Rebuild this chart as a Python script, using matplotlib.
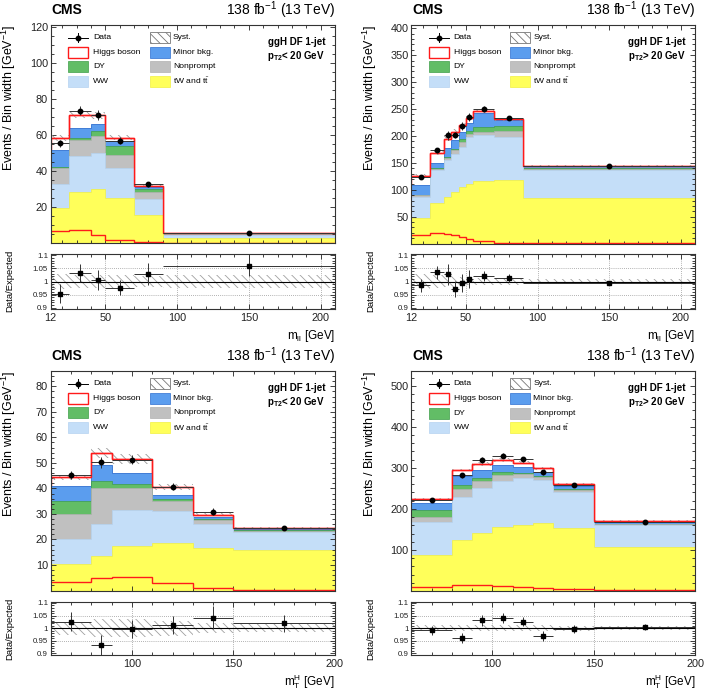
import numpy as np
import matplotlib
matplotlib.use("Agg")
import matplotlib.pyplot as plt
from matplotlib.patches import Rectangle
from matplotlib.lines import Line2D
from matplotlib.ticker import MultipleLocator, FixedLocator

plt.rcParams["font.family"] = ["Liberation Sans", "DejaVu Sans"]
plt.rcParams["mathtext.fontset"] = "custom"
plt.rcParams["mathtext.rm"] = "Liberation Sans"
plt.rcParams["mathtext.it"] = "Liberation Sans:italic"
plt.rcParams["mathtext.bf"] = "Liberation Sans:bold"
plt.rcParams["hatch.linewidth"] = 0.6

W, H = 706, 694

# ---- top-left: m_ll, pT2 < 20 GeV ----
mll_lo_edges = [12, 25, 40, 50, 70, 90, 210]
mll_lo_top   = [19.4, 28.6, 29.9, 25.3, 15.7, 3.1]
mll_lo_ww    = [13.3, 19.8, 20.0, 16.6, 8.9, 1.6]
mll_lo_np    = [9.2, 8.8, 9.5, 7.0, 4.0, 0.3]
mll_lo_dy    = [0.6, 1.0, 2.8, 5.2, 1.3, 0.2]
mll_lo_minor = [9.2, 5.5, 3.9, 2.5, 1.4, 0.2]
mll_lo_higgs = [6.6, 7.4, 4.8, 1.9, 0.5, 0.25]
mll_lo_data  = [55.4, 73.4, 71.2, 57.0, 32.7, 5.9]
mll_lo_derr  = [2.0, 2.5, 2.8, 1.7, 1.4, 0.3]
mll_lo_ratio = [0.953, 1.033, 1.005, 0.977, 1.030, 1.060]
mll_lo_rerr  = [0.036, 0.034, 0.038, 0.030, 0.042, 0.040]
mll_lo_syst  = [0.030, 0.025, 0.025, 0.025, 0.020, 0.025]

# ---- top-right: m_ll, pT2 > 20 GeV ----
mll_hi_edges = [12, 25, 35, 40, 45, 50, 55, 70, 90, 210]
mll_hi_top   = [47, 74.9, 87, 96.5, 104.6, 110.8, 116.4, 118, 85]
mll_hi_ww    = [40.2, 61.9, 68.4, 69.5, 75.4, 86.8, 85.5, 80.7, 51]
mll_hi_np    = [3.1, 1.2, 3.3, 8.0, 9.4, 5.4, 6.1, 10.6, 2.5]
mll_hi_dy    = [0.7, 2.0, 1.7, 2.5, 4.4, 6.9, 9.3, 9.3, 1.0]
mll_hi_minor = [18.6, 10.0, 16.6, 16.1, 13.3, 14.5, 24.4, 10.7, 5.0]
mll_hi_higgs = [16, 19, 18, 15.4, 12.9, 8.6, 4.8, 1.7, 0.5]
mll_hi_data  = [123, 173, 201, 202, 218, 235, 250, 234, 144]
mll_hi_derr  = [3.0, 4.3, 8.0, 6.0, 7.6, 8.2, 5.0, 3.5, 1.2]
mll_hi_ratio = [0.985, 1.035, 1.0275, 0.971, 0.994, 1.009, 1.021, 1.015, 0.994]
mll_hi_rerr  = [0.024, 0.025, 0.040, 0.030, 0.035, 0.035, 0.020, 0.015, 0.008]
mll_hi_syst  = [0.030, 0.025, 0.022, 0.020, 0.018, 0.015, 0.012, 0.012, 0.008]

# ---- bottom-left: mTH, pT2 < 20 GeV ----
mth_lo_edges = [60, 80, 90, 110, 130, 150, 200]
mth_lo_top   = [10.4, 13.5, 17.5, 18.5, 16.5, 15.9]
mth_lo_ww    = [9.8, 12.5, 14.1, 12.7, 9.5, 6.9]
mth_lo_np    = [9.8, 14.1, 8.5, 3.7, 1.7, 0.6]
mth_lo_dy    = [4.9, 2.7, 1.6, 0.9, 0.3, 0.2]
mth_lo_minor = [6.2, 6.2, 4.4, 1.7, 0.8, 0.45]
mth_lo_higgs = [3.2, 4.8, 5.4, 2.9, 0.8, 0.35]
mth_lo_data  = [45.2, 50.2, 51.2, 40.7, 30.9, 24.6]
mth_lo_derr  = [1.7, 2.1, 1.8, 1.5, 1.4, 0.8]
mth_lo_ratio = [1.026, 0.932, 0.997, 1.013, 1.041, 1.019]
mth_lo_rerr  = [0.037, 0.042, 0.035, 0.037, 0.045, 0.034]
mth_lo_syst  = [0.025, 0.035, 0.035, 0.030, 0.020, 0.015]

# ---- bottom-right: mTH, pT2 > 20 GeV ----
mth_hi_edges = [60, 80, 90, 100, 110, 120, 130, 150, 200]
mth_hi_top   = [87.9, 124.4, 142.2, 155.3, 160.9, 166.5, 154.3, 108]
mth_hi_ww    = [79.5, 103.9, 109.5, 112.7, 115.1, 103.9, 87.7, 53]
mth_hi_np    = [13.6, 19.5, 17.1, 14.6, 9.8, 8.1, 4.0, 1.5]
mth_hi_dy    = [16.4, 10.5, 7.2, 6.6, 1.7, 2.5, 2.5, 1.0]
mth_hi_minor = [17.6, 23.0, 19.4, 17.0, 15.1, 9.9, 7.2, 5.3]
mth_hi_higgs = [10, 13.5, 14, 12.8, 10, 8, 5, 1.8]
mth_hi_data  = [221.8, 282, 319, 329.6, 320.8, 289.2, 258.3, 169]
mth_hi_derr  = [4.0, 5.6, 7.0, 6.6, 5.8, 5.8, 3.9, 2.0]
mth_hi_ratio = [0.991, 0.961, 1.032, 1.039, 1.026, 0.970, 0.996, 1.006]
mth_hi_rerr  = [0.018, 0.020, 0.022, 0.020, 0.018, 0.020, 0.015, 0.012]
mth_hi_syst  = [0.012, 0.012, 0.012, 0.012, 0.012, 0.012, 0.010, 0.008]

C_TOP, C_WW, C_NP, C_DY, C_MIN, C_H = "#FFFF5A", "#C4DEF8", "#C0C0C0", "#62BD66", "#5B9DEE", "#FF1A1A"
E_TOP, E_WW, E_NP, E_DY, E_MIN = "#F2F040", "#B5D2F0", "#B0B0B0", "#3E9E48", "#2F6FD0"
HATCH = "\\\\\\\\"


def px_axes(fig, l, t, r, b):
    return fig.add_axes([l / W, 1 - b / H, (r - l) / W, (b - t) / H])


def style(ax, ysize):
    ax.tick_params(which="both", direction="in", top=True, right=True, labelsize=ysize, pad=2,
                   width=0.6, colors="#222")
    ax.tick_params(which="major", length=3.6)
    ax.tick_params(which="minor", length=1.9)
    for sp in ax.spines.values():
        sp.set_linewidth(0.8); sp.set_color("#333"); sp.set_zorder(6)


def legend(ax):
    bw, bh = 0.070, 0.050
    rows = [0.942, 0.875, 0.809, 0.743]
    kw = dict(transform=ax.transAxes, clip_on=False, zorder=7)
    tk = dict(transform=ax.transAxes, fontsize=6.1, va="center", ha="left", zorder=7)
    # column 1
    x0 = 0.061
    ax.add_line(Line2D([x0, x0 + bw], [rows[0]] * 2, color="k", lw=0.7, **kw))
    ax.add_line(Line2D([x0 + bw / 2] * 2, [rows[0] - 0.02, rows[0] + 0.02], color="k", lw=0.7, **kw))
    ax.add_line(Line2D([x0 + bw / 2], [rows[0]], marker="o", ms=3.2, color="k", **kw))
    ax.add_patch(Rectangle((x0, rows[1] - bh / 2), bw, bh, facecolor="white", edgecolor=C_H, lw=1.0, **kw))
    ax.add_patch(Rectangle((x0, rows[2] - bh / 2), bw, bh, facecolor=C_DY, edgecolor=E_DY, lw=0.5, **kw))
    ax.add_patch(Rectangle((x0, rows[3] - bh / 2), bw, bh, facecolor=C_WW, edgecolor=E_WW, lw=0.5, **kw))
    for y, s in zip(rows, ["Data", "Higgs boson", "DY", "WW"]):
        ax.text(0.149, y, s, **tk)
    # column 2
    x1 = 0.349
    ax.add_patch(Rectangle((x1, rows[0] - bh / 2), bw, bh, facecolor="white", edgecolor="#777",
                           hatch=HATCH, lw=0.6, **kw))
    ax.add_patch(Rectangle((x1, rows[1] - bh / 2), bw, bh, facecolor=C_MIN, edgecolor=E_MIN, lw=0.5, **kw))
    ax.add_patch(Rectangle((x1, rows[2] - bh / 2), bw, bh, facecolor=C_NP, edgecolor=E_NP, lw=0.5, **kw))
    ax.add_patch(Rectangle((x1, rows[3] - bh / 2), bw, bh, facecolor=C_TOP, edgecolor=E_TOP, lw=0.5, **kw))
    for y, s in zip(rows, ["Syst.", "Minor bkg.", "Nonprompt", r"tW and $\mathrm{t\bar{t}}$"]):
        ax.text(0.430, y, s, **tk)


def panel(ax, rax, edges, comps, higgs, data, derr, ratio, rerr, syst,
          ylim, ymajor, yminor, xlim, xticks, xlabels, cut):
    edges = np.asarray(edges, float)
    centers = 0.5 * (edges[1:] + edges[:-1])
    half = 0.5 * np.diff(edges)
    cum = np.cumsum([np.asarray(c, float) for c in comps + [higgs]], axis=0)
    fcs = [C_TOP, C_WW, C_NP, C_DY, C_MIN, "white"]
    ecs = [E_TOP, E_WW, E_NP, E_DY, E_MIN, C_H]
    lws = [0.5, 0.5, 0.5, 0.5, 0.6, 1.0]
    for i in reversed(range(len(cum))):
        ax.stairs(cum[i], edges, baseline=0, fill=True, facecolor=fcs[i], edgecolor=ecs[i],
                  lw=lws[i], zorder=1)
    total = cum[-1]
    s = np.asarray(syst, float)
    ax.stairs(total * (1 + s), edges, baseline=total * (1 - s), fill=True, facecolor="none",
              edgecolor="#9a9a9a", hatch=HATCH, lw=0, zorder=2)
    ax.stairs(total, edges, baseline=None, color=C_H, lw=1.0, zorder=3)
    ax.stairs(np.asarray(higgs, float), edges, baseline=None, color=C_H, lw=1.0, zorder=3)
    ax.errorbar(centers, data, xerr=half, yerr=derr, fmt="o", ms=3.2, color="k", ecolor="#333",
                elinewidth=0.7, capsize=0, zorder=4)
    ax.set_xlim(*xlim); ax.set_ylim(*ylim)
    ax.yaxis.set_major_locator(FixedLocator(ymajor))
    ax.yaxis.set_minor_locator(MultipleLocator(yminor))
    ax.xaxis.set_major_locator(FixedLocator(xticks))
    ax.xaxis.set_minor_locator(MultipleLocator(10))
    style(ax, 7.8)
    ax.tick_params(labelbottom=False)
    legend(ax)
    ax.text(0.965, 0.9235, "ggH DF 1-jet", transform=ax.transAxes, ha="right", va="center",
            fontsize=7, fontweight="bold", zorder=7)
    ax.text(0.965, 0.86, r"$\mathbf{p}_{\mathbf{T2}}$" + cut, transform=ax.transAxes, ha="right",
            va="center", fontsize=7, fontweight="bold", zorder=7)

    # ratio panel
    rax.stairs(1 + s, edges, baseline=1 - s, fill=True, facecolor="none", edgecolor="#a0a0a0",
               hatch=HATCH, lw=0, zorder=1)
    for y in (0.95, 1.05):
        rax.axhline(y, color="#999", lw=0.6, ls=(0, (1, 1.5)), zorder=0)
    for x in xticks:
        if xlim[0] < x < xlim[1]:
            rax.axvline(x, color="#999", lw=0.6, ls=(0, (1, 1.5)), zorder=0)
    rax.axhline(1.0, color="k", lw=0.8, zorder=2)
    rax.errorbar(centers, ratio, xerr=half, yerr=rerr, fmt="s", ms=2.6, color="k", ecolor="#333",
                 elinewidth=0.7, capsize=0, zorder=4)
    rax.set_xlim(*xlim); rax.set_ylim(0.895, 1.105)
    rax.set_yticks([0.9, 0.95, 1.0, 1.05, 1.1], ["0.9", "0.95", "1", "1.05", "1.1"])
    rax.yaxis.set_minor_locator(MultipleLocator(0.01))
    rax.set_xticks(xticks, xlabels)
    rax.xaxis.set_minor_locator(MultipleLocator(10))
    style(rax, 5.7)
    rax.tick_params(axis="x", labelsize=7.8, pad=3)


fig = plt.figure(figsize=(W / 100, H / 100), dpi=100)

comps = lambda *a: list(a)
specs = [
    # main box, ratio box, data, y axis, x axis, xlabel, cut
    ((50.7, 25, 335, 243.4), (50.7, 254, 335, 309),
     (mll_lo_edges, comps(mll_lo_top, mll_lo_ww, mll_lo_np, mll_lo_dy, mll_lo_minor), mll_lo_higgs,
      mll_lo_data, mll_lo_derr, mll_lo_ratio, mll_lo_rerr, mll_lo_syst),
     ((0, 121), [20, 40, 60, 80, 100, 120], 5), ((12, 210), [12, 50, 100, 150, 200]),
     r"m$_{\mathrm{ll}}$ [GeV]", "< 20 GeV"),
    ((411.3, 25, 695.3, 243.6), (411.3, 254, 695.3, 309),
     (mll_hi_edges, comps(mll_hi_top, mll_hi_ww, mll_hi_np, mll_hi_dy, mll_hi_minor), mll_hi_higgs,
      mll_hi_data, mll_hi_derr, mll_hi_ratio, mll_hi_rerr, mll_hi_syst),
     ((0, 406), [50, 100, 150, 200, 250, 300, 350, 400], 10), ((12, 210), [12, 50, 100, 150, 200]),
     r"m$_{\mathrm{ll}}$ [GeV]", "> 20 GeV"),
    ((50.7, 371, 335, 590.5), (50.7, 601.7, 335, 654.7),
     (mth_lo_edges, comps(mth_lo_top, mth_lo_ww, mth_lo_np, mth_lo_dy, mth_lo_minor), mth_lo_higgs,
      mth_lo_data, mth_lo_derr, mth_lo_ratio, mth_lo_rerr, mth_lo_syst),
     ((0, 86), [10, 20, 30, 40, 50, 60, 70, 80], 2), ((60, 200), [100, 150, 200]),
     r"m$_{\mathrm{T}}^{\mathrm{H}}$ [GeV]", "< 20 GeV"),
    ((411.3, 371, 695.3, 591), (411.3, 601.7, 695.3, 654.7),
     (mth_hi_edges, comps(mth_hi_top, mth_hi_ww, mth_hi_np, mth_hi_dy, mth_hi_minor), mth_hi_higgs,
      mth_hi_data, mth_hi_derr, mth_hi_ratio, mth_hi_rerr, mth_hi_syst),
     ((0, 536), [100, 200, 300, 400, 500], 20), ((60, 200), [100, 150, 200]),
     r"m$_{\mathrm{T}}^{\mathrm{H}}$ [GeV]", "> 20 GeV"),
]

for mbox, rbox, d, yax, xax, xlabel, cut in specs:
    ax = px_axes(fig, *mbox)
    rax = px_axes(fig, *rbox)
    edges, cs, higgs, data, derr, ratio, rerr, syst = d
    ylim, ymajor, yminor = yax
    xlim, xticks = xax
    panel(ax, rax, edges, cs, higgs, data, derr, ratio, rerr, syst,
          ylim, ymajor, yminor, xlim, xticks, [str(x) for x in xticks], cut)
    l, t, r, b = mbox
    ytxt = t - 15
    fig.text((l + 1) / W, 1 - ytxt / H, "CMS", fontsize=10, fontweight="bold", ha="left", va="center")
    fig.text(r / W, 1 - ytxt / H, r"138 fb$^{-1}$ (13 TeV)", fontsize=10, ha="right", va="center")
    fig.text((l - 41.5) / W, 1 - t / H, r"Events / Bin width [GeV$^{-1}$]", fontsize=9,
             rotation=90, ha="center", va="top")
    rl, rt, rr, rb = rbox
    fig.text((rl - 40.5) / W, 1 - (rt - 4) / H, "Data/Expected", fontsize=6.8,
             rotation=90, ha="center", va="top")
    fig.text(rr / W, 1 - (rb + 27) / H, xlabel, fontsize=8.5, ha="right", va="center")

fig.savefig("out.png", dpi=100)
